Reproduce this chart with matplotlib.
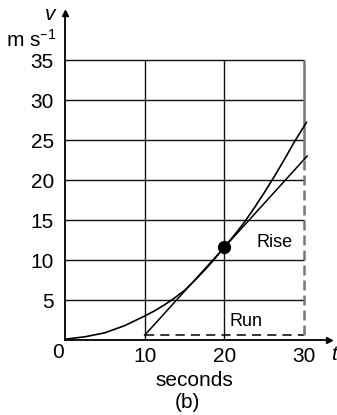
import matplotlib.pyplot as plt

plt.rcParams['font.family'] = ['Liberation Sans', 'DejaVu Sans']
plt.rcParams['mathtext.default'] = 'regular'

# speed-time curve
t = [0, 2.5, 5, 7.5, 10, 11.25, 12.5, 13.75, 15, 16.25, 17.5, 18.75, 20,
     21.25, 22.5, 23.75, 25, 26.25, 27.5, 28.75, 30.3]
v = [0.1, 0.4, 0.9, 1.8, 3.0, 3.65, 4.4, 5.25, 6.2, 7.4, 8.7, 10.1, 11.6,
     13.1, 14.7, 16.5, 18.4, 20.4, 22.5, 24.7, 27.2]

# tangent drawn at t = 20
tan_t = [10, 30.4]
tan_v = [0.6, 23.0]
point_t, point_v = 20, 11.6

# run / rise construction
run_t = [10, 30]
run_v = 0.6
rise_t = 30
rise_v = [0.6, 22.6]

y_ticks = [5, 10, 15, 20, 25, 30, 35]
x_ticks = [10, 20, 30]

W, H = 337, 415
fig = plt.figure(figsize=(W / 100, H / 100), dpi=100)
# origin at pixel (65, 340); 30 s -> 239 px, 35 m/s -> 280 px
x_max, y_max = 33.2, 40.9
ax = fig.add_axes([65 / W, (H - 340) / H, x_max * 239 / 30 / W, y_max * 8 / H])
ax.set_xlim(0, x_max)
ax.set_ylim(0, y_max)

for s in ['top', 'right']:
    ax.spines[s].set_visible(False)
for s in ['left', 'bottom']:
    ax.spines[s].set_linewidth(1.3)
ax.plot(1, 0, '>k', ms=5, transform=ax.get_yaxis_transform(), clip_on=False)
ax.plot(0, 1, '^k', ms=5, transform=ax.get_xaxis_transform(), clip_on=False)

# grid
ax.hlines(y_ticks, 0, 30, colors='#111111', lw=1)
ax.vlines(x_ticks[:-1], 0, 35, colors='#111111', lw=1)
ax.vlines(x_ticks[-1], rise_v[1], 35, colors='#777777', lw=1.8)

ax.plot(t, v, color='black', lw=1.2, clip_on=False)
ax.plot(tan_t, tan_v, color='black', lw=1.1, clip_on=False)
ax.plot(point_t, point_v, 'o', color='black', ms=8.5)

ax.plot(run_t, [run_v, run_v], color='black', lw=1.1, dashes=(6, 4))
ax.plot([rise_t, rise_t], rise_v, color='#777777', lw=1.8, dashes=(4, 2))

ax.text(24.0, 12.2, 'Rise', fontsize=13, va='center')
ax.text(20.6, 2.3, 'Run', fontsize=13, va='center')

ax.set_xticks(x_ticks)
ax.set_yticks(y_ticks)
ax.tick_params(length=0, labelsize=15)
ax.tick_params(axis='y', pad=8)
ax.tick_params(axis='x', pad=5)

fig.text(58 / W, 1 - 352 / H, '0', fontsize=15, ha='center', va='center')
fig.text(50 / W, 1 - 15 / H, 'v', fontsize=15, style='italic', ha='center', va='center')
fig.text(57 / W, 1 - 40 / H, 'm s$^{–1}$', fontsize=15, ha='right', va='center')
fig.text(334 / W, 1 - 354 / H, 't', fontsize=15, style='italic', ha='center', va='center')
fig.text(194 / W, 1 - 380 / H, 'seconds', fontsize=15, ha='center', va='center')
fig.text(187 / W, 1 - 402 / H, '(b)', fontsize=15, ha='center', va='center')

fig.savefig('out.png', dpi=100)
